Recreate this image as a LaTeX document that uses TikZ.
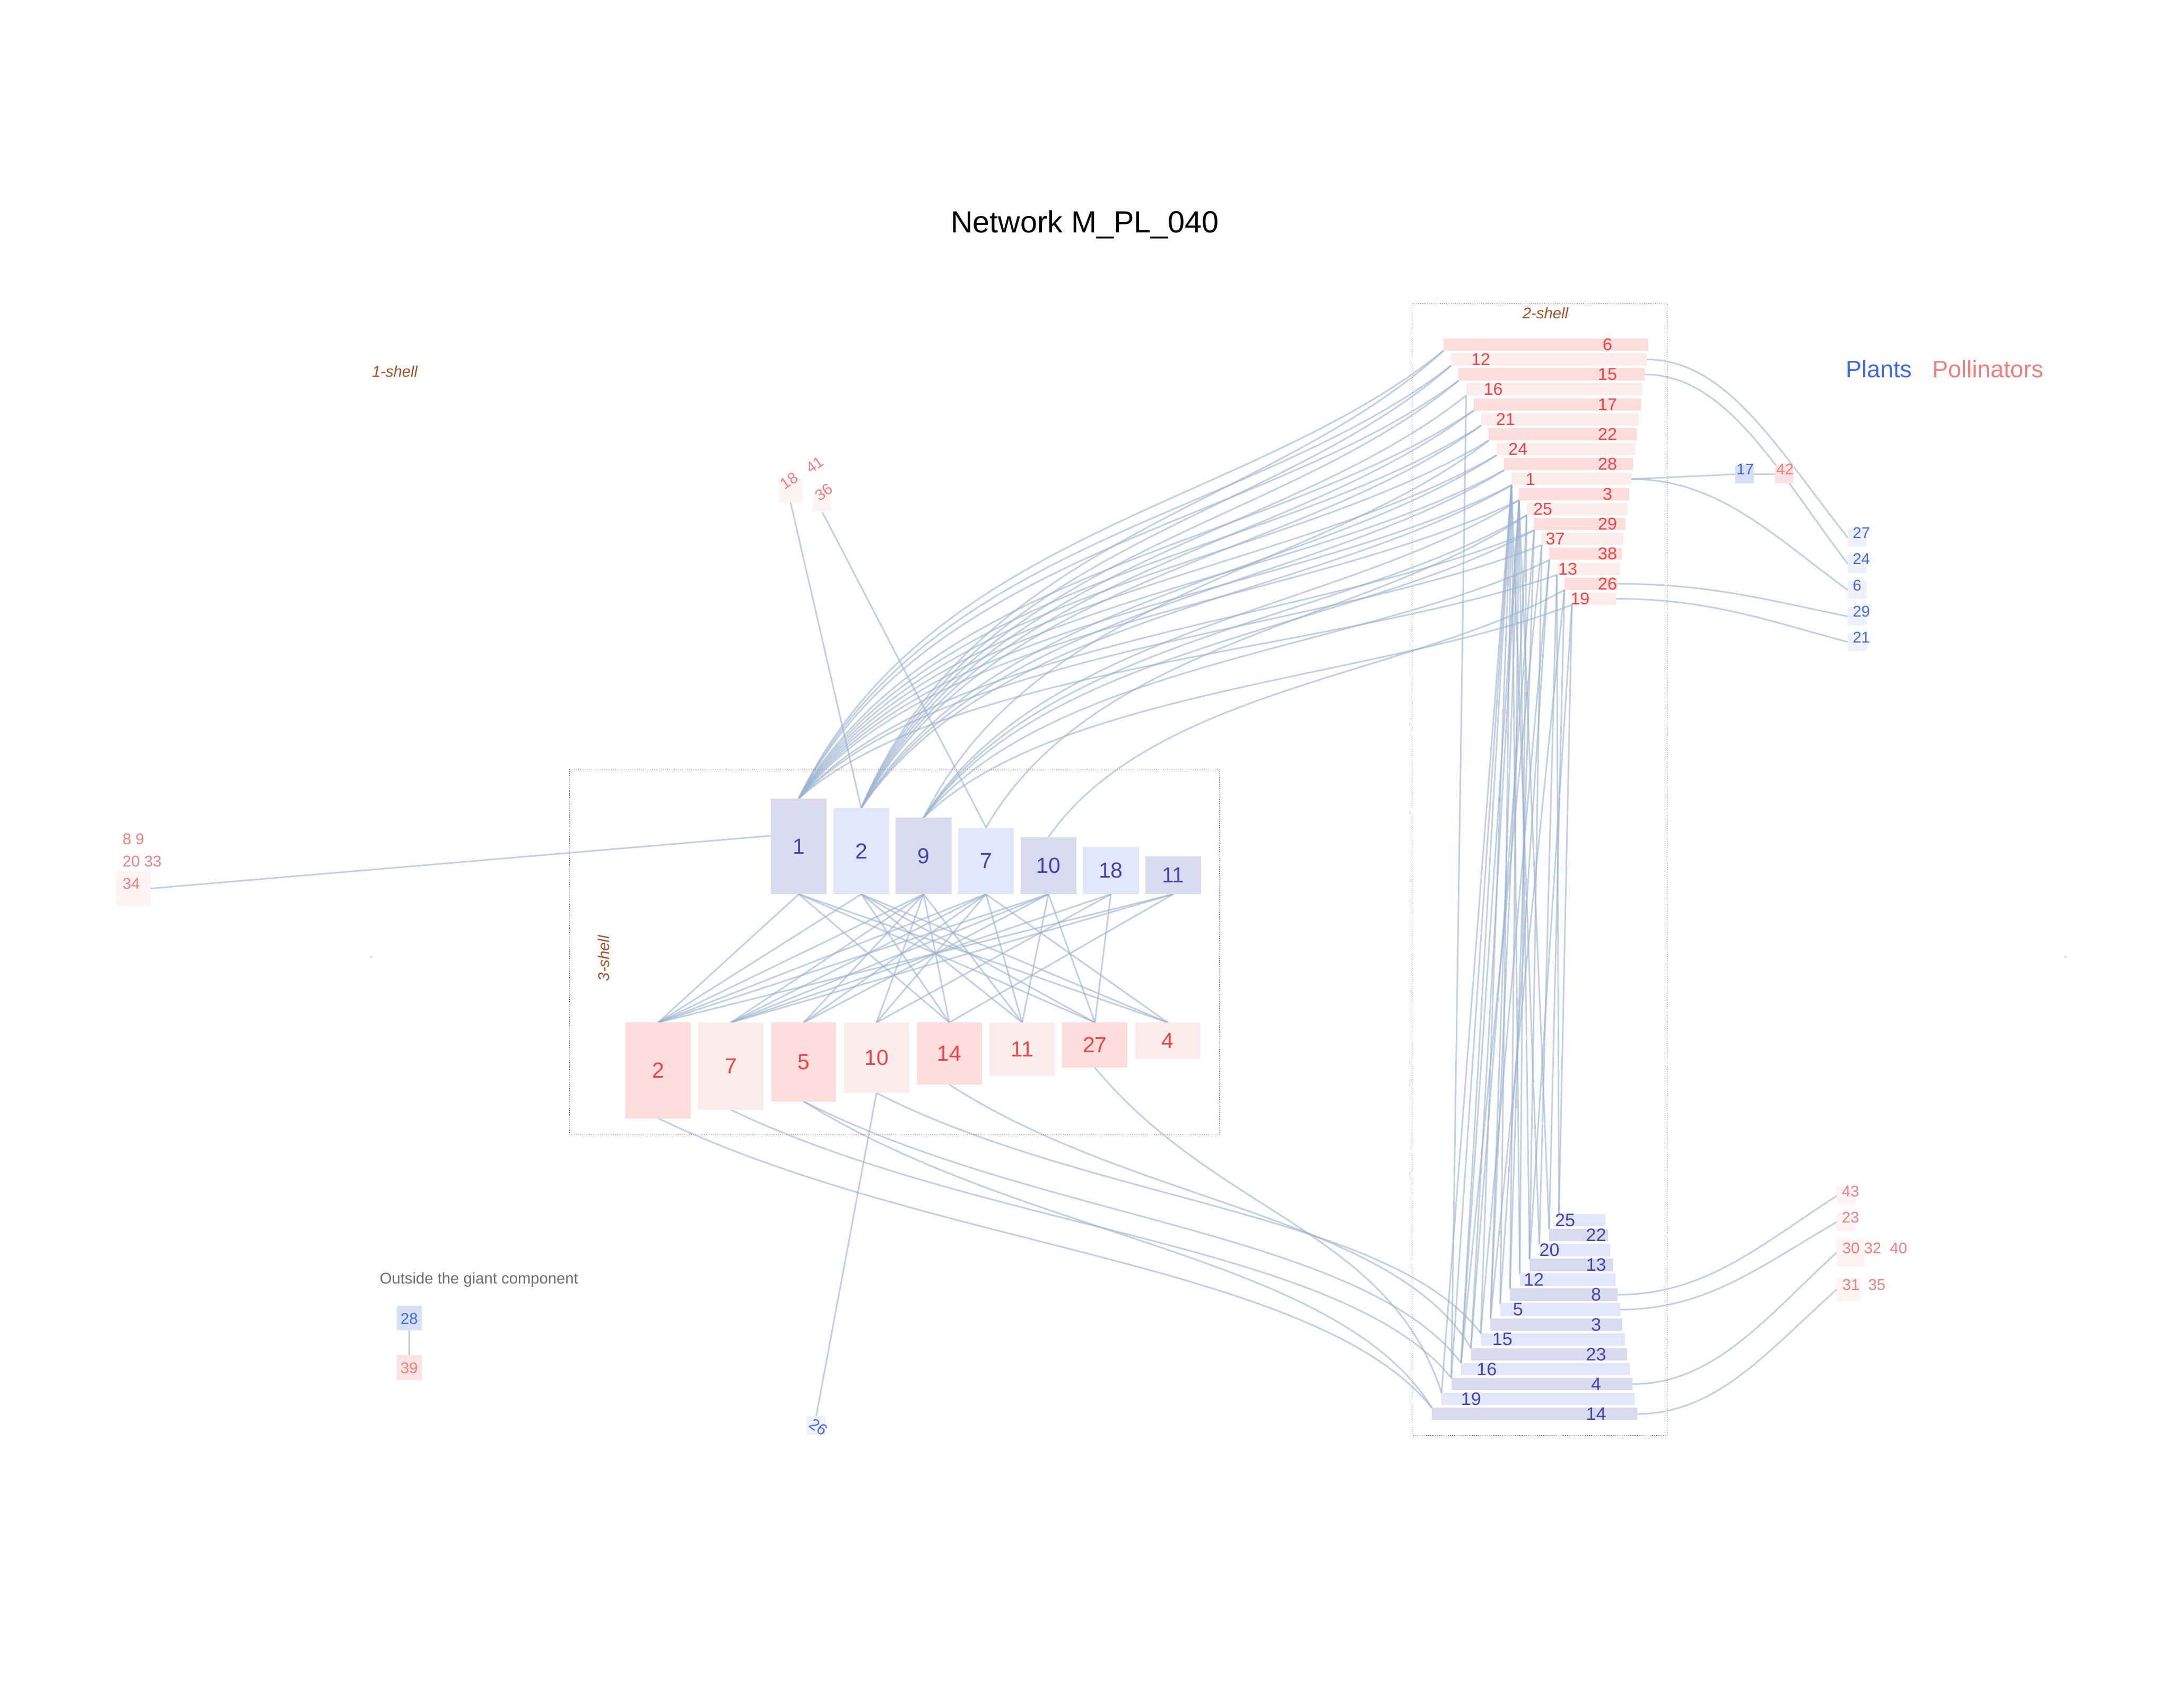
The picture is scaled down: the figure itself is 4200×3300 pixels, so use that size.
\documentclass[tikz,border=0pt]{standalone}
\usepackage{fontspec}
\setmainfont{Liberation Sans}
\usetikzlibrary{calc}
\pgfdeclarelayer{back}
\pgfdeclarelayer{bg}
\pgfsetlayers{back,bg,main}
\definecolor{edgec}{RGB}{155,178,208}
\definecolor{pold}{RGB}{253,220,220}
\definecolor{poll}{RGB}{251,236,236}
\definecolor{plad}{RGB}{217,218,238}
\definecolor{plal}{RGB}{226,230,250}
\definecolor{poltxt}{RGB}{242,68,68}
\definecolor{platxt}{RGB}{68,68,176}
\definecolor{royal}{RGB}{65,105,225}
\definecolor{lcoral}{RGB}{240,128,128}
\definecolor{shellc}{RGB}{160,82,45}
\definecolor{boxc}{RGB}{150,78,55}
\definecolor{outpl}{RGB}{238,241,252}
\definecolor{outpo}{RGB}{254,243,243}
\definecolor{grayt}{RGB}{110,110,110}
\newcommand\fOut{\fontsize{30}{36}\selectfont}
\newcommand\fTwoQ{\fontsize{33}{40}\selectfont}
\newcommand\fTwoP{\fontsize{35}{42}\selectfont}
\newcommand\fThree{\fontsize{42}{50}\selectfont}
\tikzset{
 bx/.style={rectangle, inner sep=0pt, outer sep=0pt},
 tx/.style={inner sep=0pt, outer sep=0pt},
 edge/.style={draw=edgec, line width=3pt, draw opacity=0.62, line cap=round},
 sc/.style n args={4}{to path={let \p1=(\tikztostart), \p2=(\tikztotarget) in .. controls ({\x1+#1*((\x2)-(\x1))},{\y1+#2*((\y2)-(\y1))}) and ({\x2-#3*((\x2)-(\x1))},{\y2-#4*((\y2)-(\y1))}) .. (\tikztotarget)}},
 topc/.style={sc={0.2}{0.6}{0.3}{0.35}},
 botc/.style={sc={0.35}{0.45}{0.15}{0.5}},
 sidec/.style={sc={0.4}{0}{0.35}{0.5}},
 shellbox/.style={draw=boxc, line width=1.4pt, dash pattern=on 1.4pt off 2.8pt},
 shelllab/.style={tx, text=shellc, font=\fOut\itshape},
}
\begin{document}
\begin{tikzpicture}[x=1pt,y=-1pt]
\begin{pgfonlayer}{back}
\fill[white] (0,0) rectangle (4200,3300);
\end{pgfonlayer}
\useasboundingbox (0,0) rectangle (4200,3300);

% title and legend
\node[tx, anchor=base, font=\fontsize{59}{70}\selectfont] (title) at (2097,450) {Network M\_PL\_040};
\node[tx, anchor=west, text=royal, font=\fontsize{46}{55}\selectfont] (legpl) at (3568,713) {Plants};
\node[tx, anchor=west, text=lcoral, font=\fontsize{46}{55}\selectfont] (legpo) at (3735,713) {Pollinators};

% shell frames and labels
\draw[shellbox] (2731,586) rectangle (3222,2774);
\draw[shellbox] (1101,1486) rectangle (2357,2192);
\node[shelllab] (lab1) at (763,718) {1-shell};
\node[shelllab] (lab2) at (2987,605) {2-shell};
\node[shelllab, rotate=90] (lab3) at (1167,1852) {3-shell};
\fill[gray!40] (718,1849) circle (2);
\fill[gray!40] (3992,1849) circle (2);

% 2-shell pollinators
\foreach \n [count=\i from 0] in {6,12,15,16,17,21,22,24,28,1,3,25,29,37,38,13,26,19}{
  \pgfmathsetmacro\myL{2790+14.6*\i}
  \pgfmathsetmacro\myW{396-18.3*\i}
  \pgfmathsetmacro\myT{654+28.9*\i}
  \pgfmathsetmacro\myC{\myT+11.8}
  \ifodd\i
    \node[bx, fill=poll, anchor=north west, minimum width=\myW pt, minimum height=23.6pt] (q\n) at (\myL,\myT) {};
    \pgfmathsetmacro\myX{2862+12*(\i-1)}
  \else
    \node[bx, fill=pold, anchor=north west, minimum width=\myW pt, minimum height=23.6pt] (q\n) at (\myL,\myT) {};
    \def\myX{3107}
  \fi
  \node[tx, text=poltxt, font=\fTwoQ] (tq\n) at (\myX,\myC) {\n};
}

% 2-shell plants
\foreach \n [count=\j from 0] in {25,22,20,13,12,8,5,3,15,23,16,4,19,14}{
  \pgfmathsetmacro\myL{3013-18.9*\j}
  \pgfmathsetmacro\myW{90+23.6*\j}
  \pgfmathsetmacro\myT{2346+28.8*\j}
  \pgfmathsetmacro\myC{\myT+12}
  \ifodd\j
    \node[bx, fill=plad, anchor=north west, minimum width=\myW pt, minimum height=24pt] (p\n) at (\myL,\myT) {};
    \def\myX{3085}
  \else
    \node[bx, fill=plal, anchor=north west, minimum width=\myW pt, minimum height=24pt] (p\n) at (\myL,\myT) {};
    \pgfmathsetmacro\myX{3025-15.15*\j}
  \fi
  \node[tx, text=platxt, font=\fTwoP] (tp\n) at (\myX,\myC) {\n};
}

% 3-shell plants
\foreach \n [count=\k from 0] in {1,2,9,7,10,18,11}{
  \pgfmathsetmacro\myX{1544+120.6*\k}
  \pgfmathsetmacro\myT{1543+18.7*\k}
  \pgfmathsetmacro\myH{1728-\myT}
  \pgfmathsetmacro\myC{(\myT+1728)/2}
  \ifodd\k
    \node[bx, fill=plal, anchor=north, minimum width=108pt, minimum height=\myH pt] (p\n) at (\myX,\myT) {};
  \else
    \node[bx, fill=plad, anchor=north, minimum width=108pt, minimum height=\myH pt] (p\n) at (\myX,\myT) {};
  \fi
  \node[tx, text=platxt, font=\fThree] (tp\n) at (\myX,\myC) {\n};
}

% 3-shell pollinators
\foreach \n [count=\k from 0] in {2,7,5,10,14,11,27,4}{
  \pgfmathsetmacro\myX{1272+140.7*\k}
  \pgfmathsetmacro\myH{185-16.3*\k}
  \pgfmathsetmacro\myC{1976+\myH/2}
  \ifodd\k
    \node[bx, fill=poll, anchor=north, minimum width=126pt, minimum height=\myH pt] (q\n) at (\myX,1976) {};
  \else
    \node[bx, fill=pold, anchor=north, minimum width=126pt, minimum height=\myH pt] (q\n) at (\myX,1976) {};
  \fi
  \node[tx, text=poltxt, font=\fThree] (tq\n) at (\myX,\myC) {\n};
}

% 1-shell plants on the right
\foreach \n/\yc in {27/1038.5, 24/1089.5, 6/1140, 29/1191, 21/1240.5}{
  \node[bx, fill=outpl, minimum width=36pt, minimum height=35pt] (p\n) at (3589,\yc) {};
  \node[tx, anchor=west, text=royal, font=\fOut] (tp\n) at (3581,\yc-9) {\n};
}
\node[bx, fill={rgb,255:red,214;green,223;blue,248}, minimum width=36pt, minimum height=35pt] (p17) at (3372,916.5) {};
\node[tx, text=royal, font=\fOut] (tp17) at (3373,907) {17};
\node[bx, fill={rgb,255:red,252;green,227;blue,227}, minimum width=36pt, minimum height=35pt] (q42) at (3449,916.5) {};
\node[tx, text=lcoral, font=\fOut] (tq42) at (3450,907) {42};

% 1-shell pollinators on the right (bottom)
\node[bx, fill=outpo, minimum width=36pt, minimum height=36pt] (q43) at (3568,2311) {};
\node[tx, anchor=west, text=lcoral, font=\fOut] (tq43) at (3560,2302) {43};
\node[bx, fill=outpo, minimum width=36pt, minimum height=35pt] (q23) at (3568,2361.5) {};
\node[tx, anchor=west, text=lcoral, font=\fOut] (tq23) at (3560,2353) {23};
\node[bx, fill=outpo, minimum width=54pt, minimum height=53pt] (q30) at (3577,2420.5) {};
\node[tx, anchor=west, text=lcoral, font=\fOut] (tq30) at (3561,2412) {30 32~~40};
\node[bx, fill=outpo, minimum width=46pt, minimum height=46pt] (q31) at (3573,2492) {};
\node[tx, anchor=west, text=lcoral, font=\fOut] (tq31) at (3561,2483) {31~~35};

% 1-shell pollinators on the left and top
\node[bx, fill=outpo, minimum width=66pt, minimum height=66pt] (q34) at (258,1717) {};
\node[tx, anchor=west, text=lcoral, font=\fOut] (tq34) at (237,1708) {34};
\node[tx, anchor=west, text=lcoral, font=\fOut] (tq20) at (237,1665) {20 33};
\node[tx, anchor=west, text=lcoral, font=\fOut] (tq8) at (237,1622) {8 9};
\node[bx, fill=outpo, minimum width=46pt, minimum height=46pt] (q18) at (1528,948) {};
\node[tx, rotate=35, text=lcoral, font=\fOut] (tq18) at (1525,929) {18};
\node[tx, rotate=35, text=lcoral, font=\fOut] (tq41) at (1575,898) {41};
\node[bx, fill=outpo, minimum width=36pt, minimum height=37pt] (q36) at (1589,970.5) {};
\node[tx, rotate=35, text=lcoral, font=\fOut] (tq36) at (1592,951) {36};

% 1-shell plant at the bottom
\node[bx, fill=outpl, minimum width=35pt, minimum height=36pt] (p26) at (1577.5,2755) {};
\node[tx, rotate=-35, text=royal, font=\fOut] (tp26) at (1582,2758) {26};

% outside the giant component
\node[tx, anchor=base west, text=grayt, font=\fOut] (outlab) at (734,2481) {Outside the giant component};
\node[bx, fill={rgb,255:red,215;green,224;blue,249}, minimum width=48pt, minimum height=48pt] (p28) at (791,2547) {};
\node[tx, text=royal, font=\fOut] (tp28) at (791,2548) {28};
\node[bx, fill={rgb,255:red,253;green,227;blue,227}, minimum width=48pt, minimum height=48pt] (q39) at (791,2643) {};
\node[tx, text=lcoral, font=\fOut] (tq39) at (791,2644) {39};

\coordinate (p1in) at (1490,1615);

\begin{pgfonlayer}{bg}
% 3-shell plants to 2-shell pollinators
\foreach \a/\b in {1/6,1/12,1/15,1/17,1/21,1/22,1/24,1/28,1/1,1/3,1/29,1/37,1/13,
  2/6,2/12,2/15,2/16,2/17,2/21,2/24,2/28,2/1,
  9/22,9/3,9/25,9/29,9/38,9/19,
  7/25,10/26}
  \draw[edge] (p\a.north) to[topc] (q\b.south west);
% inside the 3-shell
\foreach \a/\b in {1/2,1/14,1/27,1/4,
  2/2,2/14,2/11,2/27,2/4,
  9/2,9/7,9/5,9/10,9/14,9/11,
  7/2,7/7,7/5,7/10,7/11,7/4,
  10/2,10/7,10/5,10/11,10/27,
  18/7,18/10,18/27,
  11/2,11/7,11/14}
  \draw[edge] (p\a.south) -- (q\b.north);
% inside the 2-shell
\foreach \a/\b in {1/20,1/12,1/5,1/15,1/16,1/4,1/19,
  3/22,3/13,3/8,3/3,3/23,3/16,
  25/12,25/3,29/8,29/23,37/13,37/16,38/5,38/15,
  13/25,13/20,26/22,26/3,19/25,19/13,16/4}
  \draw[edge] (q\a.south west) -- (p\b.north west);
% 3-shell pollinators to 2-shell plants
\foreach \a/\b in {2/14,7/4,5/14,5/16,10/15,14/23,27/19}
  \draw[edge] (q\a.south) to[botc] (p\b.north west);
% 2-shell to 1-shell
\foreach \a/\b in {12/27,15/24,1/6,26/29,19/21}
  \draw[edge] (q\a.east) to[sidec] (p\b.west);
\foreach \a/\b in {8/43,5/23,4/30,14/31}
  \draw[edge] (p\a.east) to[sidec] (q\b.west);
\draw[edge] (q1.east) -- (p17.west);
\draw[edge] (p17.east) -- (q42.west);
\draw[edge] (q34.east) -- (p1in);
\draw[edge] (q18.south) -- (p2.north);
\draw[edge] (q36.south) -- (p7.north);
\draw[edge] (q10.south) -- (p26.north);
\draw[edge] (p28.south) -- (q39.north);
\end{pgfonlayer}
\end{tikzpicture}
\end{document}
